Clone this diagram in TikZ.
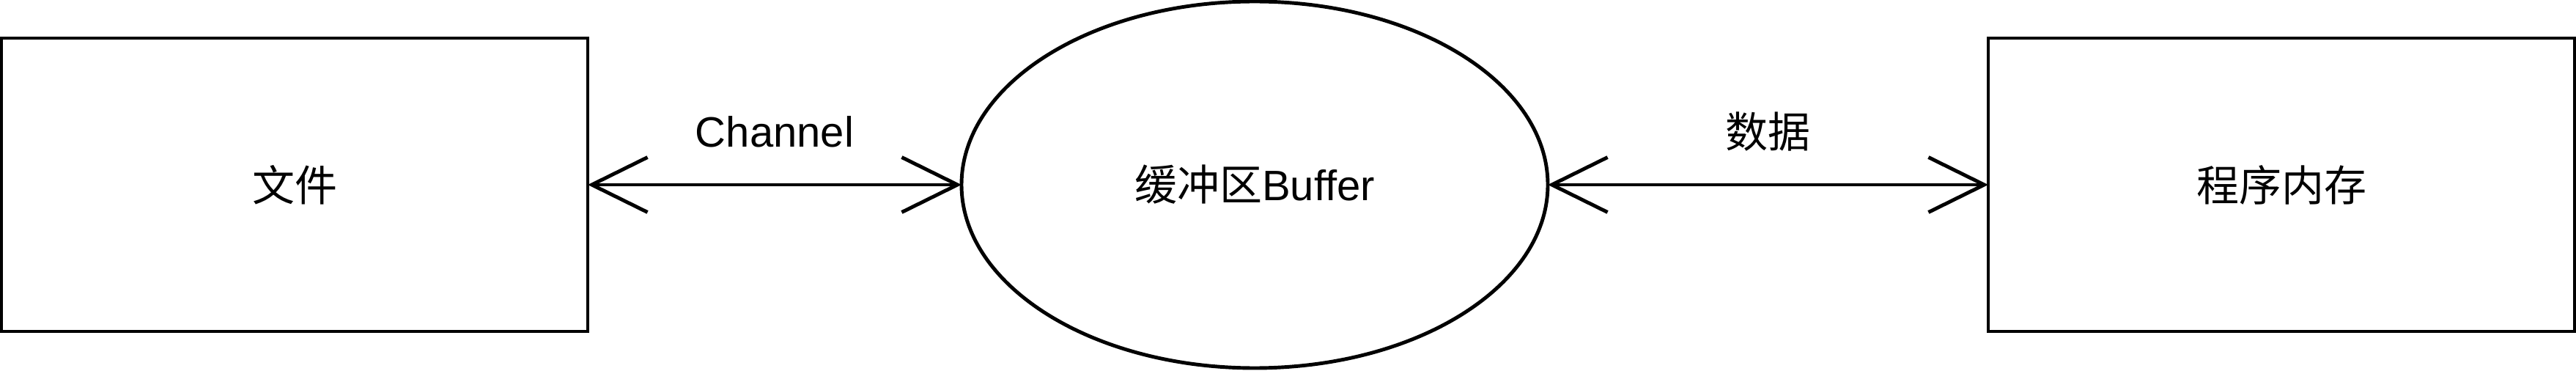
\documentclass[tikz,border=0pt]{standalone}
\usepackage{fontspec}
\setmainfont{Liberation Sans}
\newfontfamily\cjk{Noto Sans CJK SC}
\usetikzlibrary{positioning,shapes.geometric,arrows.meta}

\tikzset{
  box/.style={draw,line width=1.4pt,minimum width=8cm,minimum height=4cm,inner sep=0pt,outer sep=0pt},
  buffer/.style={draw,ellipse,line width=1.4pt,minimum width=8cm,minimum height=5cm,inner sep=0pt,outer sep=0pt},
  link/.style={line width=1.4pt,{Straight Barb[length=7.6mm,width=7.5mm]}-{Straight Barb[length=7.6mm,width=7.5mm]}}
}

\begin{document}
\begin{tikzpicture}[font=\fontsize{16.5}{20}\selectfont]
  \useasboundingbox (0,0) rectangle (35.15,5.05);
  \node[box] (node1) at (4.02,2.53) {\cjk 文件};
  \node[buffer,right=5.1cm of node1] (node2) {{\cjk 缓冲区}Buffer};
  \node[box,right=6.01cm of node2] (node3) {\cjk 程序内存};
  \draw[link] (node1) -- node[midway,yshift=7.2mm] {Channel} (node2);
  \draw[link] (node2) -- node[midway,yshift=7.2mm] {\cjk 数据} (node3);
\end{tikzpicture}
\end{document}
